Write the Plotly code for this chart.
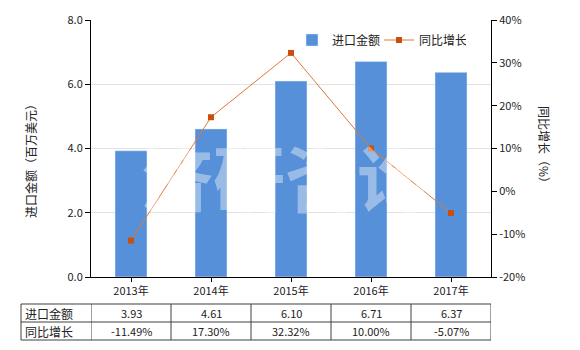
import plotly.graph_objects as go

years = ["2013年", "2014年", "2015年", "2016年", "2017年"]
import_value = [3.93, 4.61, 6.10, 6.71, 6.37]
yoy_growth = [-11.49, 17.30, 32.32, 10.00, -5.07]
left_ticks = [0, 2, 4, 6, 8]
right_ticks = [-20, -10, 0, 10, 20, 30, 40]
row_labels = ["进口金额", "同比增长"]

FONT = "Noto Sans CJK SC"
BAR = "#5590d8"
LINE = "#e07834"
MARK = "#c8500f"
TXT = "#222"

W, H = 580, 350
ML, MR, MT, MB = 21, 89, 20, 8
PW, PH = W - ML - MR, H - MT - MB


def px_x(x):
    return (x - ML) / PW


def px_y(y):
    return 1 - (y - MT) / PH


fig = go.Figure()
fig.add_trace(go.Bar(x=years, y=import_value, name="进口金额", marker_color=BAR,
                     width=0.4, xaxis="x", yaxis="y"))
fig.add_trace(go.Scatter(x=years, y=yoy_growth, name="同比增长", mode="lines+markers",
                         line=dict(color=LINE, width=1),
                         marker=dict(symbol="square", size=6, color=MARK),
                         xaxis="x", yaxis="y2"))

# data table below the chart
row_tops = [304, 322, 340]
shapes = []
tbl_line = dict(color="#404040", width=1)
for yy in row_tops:
    shapes.append(dict(type="line", xref="paper", yref="paper", x0=px_x(21), x1=1,
                       y0=px_y(yy), y1=px_y(yy), line=tbl_line))
shapes.append(dict(type="line", xref="paper", yref="paper", x0=px_x(21), x1=px_x(21),
                   y0=px_y(row_tops[0]), y1=px_y(row_tops[-1]), line=tbl_line))
for i in range(len(years) + 1):
    shapes.append(dict(type="line", xref="x", yref="paper", x0=i - 0.5, x1=i - 0.5,
                       y0=px_y(row_tops[0]), y1=px_y(row_tops[-1]), line=tbl_line))

annotations = []
row_texts = [[f"{v:.2f}" for v in import_value], [f"{g:.2f}%" for g in yoy_growth]]
for r, (lab, texts) in enumerate(zip(row_labels, row_texts)):
    yc = px_y((row_tops[r] + row_tops[r + 1]) / 2)
    annotations.append(dict(text=lab, xref="paper", yref="paper", x=px_x(23), y=yc,
                            xanchor="left", yanchor="middle", showarrow=False,
                            font=dict(family=FONT, size=12, color=TXT)))
    for i, t in enumerate(texts):
        annotations.append(dict(text=t, xref="x", yref="paper", x=years[i], y=yc,
                                xanchor="center", yanchor="middle", showarrow=False,
                                font=dict(family=FONT, size=11, color=TXT)))

annotations += [
    dict(text="进口金额（百万美元）", textangle=-90, xref="paper", yref="paper",
         x=px_x(30), y=px_y(158), xanchor="center", yanchor="middle",
         showarrow=False, font=dict(family=FONT, size=12, color=TXT)),
    dict(text="同比增长（%）", textangle=90, xref="paper", yref="paper",
         x=px_x(545), y=px_y(147), xanchor="center", yanchor="middle",
         showarrow=False, font=dict(family=FONT, size=12, color=TXT)),
    dict(text="<b>济研咨询</b>", xref="paper", yref="paper",
         x=px_x(285), y=px_y(174), xanchor="center", yanchor="middle",
         showarrow=False, font=dict(family=FONT, size=72, color="rgba(255,255,255,0.4)")),
]

fig.update_layout(
    width=W, height=H,
    margin=dict(l=ML, r=MR, t=MT, b=MB, autoexpand=False),
    paper_bgcolor="white", plot_bgcolor="white",
    font=dict(family=FONT, size=11, color=TXT),
    showlegend=True,
    legend=dict(orientation="h", x=px_x(292), y=px_y(40), xanchor="left", yanchor="middle",
                font=dict(family=FONT, size=12, color=TXT), bgcolor="rgba(0,0,0,0)",
                itemwidth=30, entrywidth=42, entrywidthmode="pixels", tracegroupgap=0),
    xaxis=dict(domain=[px_x(91), 1], range=[-0.5, len(years) - 0.5],
               showline=True, linecolor="black", linewidth=1,
               ticks="outside", ticklen=4, tickcolor="black", showgrid=False,
               tickfont=dict(family=FONT, size=11), anchor="y", automargin=False),
    yaxis=dict(domain=[px_y(277), 1], range=[0, 8], tickvals=left_ticks,
               tickformat=".1f", showline=True, linecolor="black", linewidth=1,
               ticks="outside", ticklen=5, tickcolor="black",
               showgrid=True, gridcolor="#e3e3e3", gridwidth=1, zeroline=False,
               tickfont=dict(family=FONT, size=11), anchor="x", automargin=False),
    yaxis2=dict(overlaying="y", side="right", range=[-20, 40], tickvals=right_ticks,
                ticktext=[f"{t}%" for t in right_ticks], showline=True,
                linecolor="black", linewidth=1,
                ticks="outside", ticklen=5, tickcolor="black",
                showgrid=False, zeroline=False,
                tickfont=dict(family=FONT, size=11), anchor="x", automargin=False),
    shapes=shapes,
    annotations=annotations,
)

fig.write_html("out.html")
